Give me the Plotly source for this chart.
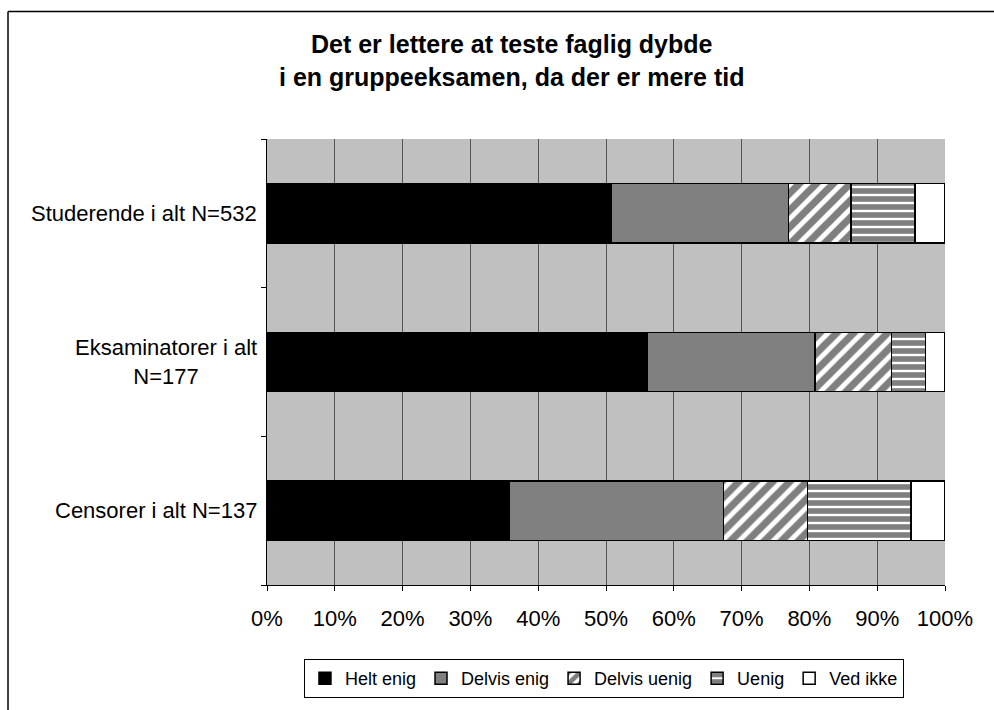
import plotly.graph_objects as go

# Respondent groups (top to bottom) and answer shares in percent
groups = ["Studerende i alt N=532", "Eksaminatorer i alt<br>N=177", "Censorer i alt N=137"]
answers = ["Helt enig", "Delvis enig", "Delvis uenig", "Uenig", "Ved ikke"]

helt_enig = [50.7, 56.1, 35.8]
delvis_enig = [26.2, 24.7, 31.5]
delvis_uenig = [9.2, 11.3, 12.4]
uenig = [9.5, 5.0, 15.3]
ved_ikke = [4.4, 2.9, 5.0]

tick_vals = [0, 10, 20, 30, 40, 50, 60, 70, 80, 90, 100]
tick_text = [f"{v}%" for v in tick_vals]

series = [helt_enig, delvis_enig, delvis_uenig, uenig, ved_ikke]
styles = [
    dict(color="black"),
    dict(color="#808080"),
    dict(color="white", pattern=dict(shape="/", fgcolor="black", bgcolor="white", size=12, solidity=0.6)),
    dict(color="white", pattern=dict(shape="-", fgcolor="black", bgcolor="white", size=8, solidity=0.7)),
    dict(color="white"),
]

FONT = "Liberation Sans, Arial, sans-serif"

fig = go.Figure()
for name, vals, st in zip(answers, series, styles):
    fig.add_trace(go.Bar(
        name=name,
        y=groups,
        x=vals,
        orientation="h",
        marker=dict(**st, line=dict(color="black", width=1.5)),
        hoverinfo="x+y+name",
    ))

# Category labels drawn as centred multi-line text left of the axis
annotations = [
    dict(x=-0.012, y=g, xref="paper", yref="y", text=g, showarrow=False,
         xanchor="right", yanchor="middle", align="center",
         font=dict(family=FONT, size=22, color="black"))
    for g in groups
]

annotations.append(dict(
    x=0.361, y=1.177, xref="paper", yref="paper",
    text="<b>Det er lettere at teste faglig dybde<br>i en gruppeeksamen, da der er mere tid</b>",
    showarrow=False, xanchor="center", yanchor="middle", align="center",
    font=dict(family=FONT, size=25, color="black"),
))

fig.update_layout(
    barmode="stack",
    bargap=0.6,
    width=994,
    height=710,
    margin=dict(l=267, r=49, t=139, b=120),
    paper_bgcolor="white",
    plot_bgcolor="#C0C0C0",
    font=dict(family=FONT, size=22, color="black"),
    showlegend=True,
    legend=dict(
        orientation="h",
        x=0.497, y=-0.166, xanchor="center", yanchor="top",
        bordercolor="black", borderwidth=1,
        font=dict(family=FONT, size=18, color="black"),
        itemwidth=30, traceorder="normal",
    ),
    annotations=annotations,
    shapes=[
        # outer frame of the chart area
        dict(type="line", xref="paper", yref="paper", x0=-0.382, x1=1.2, y0=1.286, y1=1.286,
             line=dict(color="black", width=1.5)),
        dict(type="line", xref="paper", yref="paper", x0=-0.382, x1=-0.382, y0=1.286, y1=-0.5,
             line=dict(color="black", width=1.5)),
    ],
)

fig.update_xaxes(
    range=[0, 100],
    tickvals=tick_vals,
    ticktext=tick_text,
    showgrid=True, gridcolor="#555555", gridwidth=1,
    showline=True, linecolor="black", linewidth=1,
    ticks="outside", ticklen=5, tickcolor="black",
    ticklabelstandoff=9,
    tickfont=dict(family=FONT, size=22, color="black"),
    zeroline=False,
    fixedrange=True,
)
fig.update_yaxes(
    categoryorder="array",
    categoryarray=groups[::-1],
    showticklabels=False,
    showgrid=False,
    showline=True, linecolor="black", linewidth=1,
    ticks="outside", ticklen=5, tickcolor="black", tickson="boundaries",
    fixedrange=True,
)

fig.write_html("out.html")
